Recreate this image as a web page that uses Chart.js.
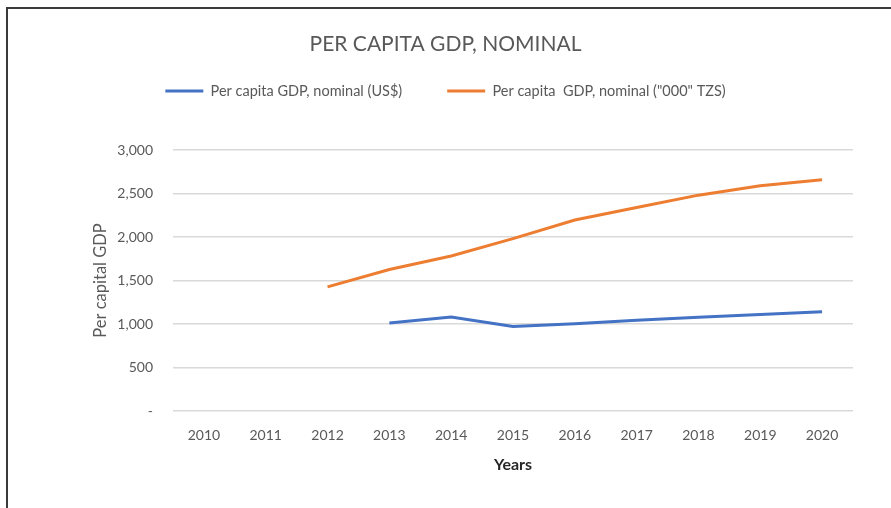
<!DOCTYPE html>
<html>
<head>
<meta charset="utf-8">
<script src="https://cdn.jsdelivr.net/npm/chart.js@4/dist/chart.umd.min.js"></script>
<style>
  html, body { margin: 0; padding: 0; background: #ffffff; }
  #wrap { position: relative; width: 891px; height: 508px; overflow: hidden; }
  #frame { position: absolute; left: 6px; top: 7px; right: -4px; bottom: -4px;
           border-left: 2px solid #3a3a3a; border-top: 2px solid #3a3a3a; pointer-events: none; }
  canvas { position: absolute; left: 0; top: 0; }
</style>
</head>
<body>
<div id="wrap">
  <canvas id="chart" width="891" height="508"></canvas>
  <div id="frame"></div>
</div>
<script>
// Years on the category axis
const years = ['2010', '2011', '2012', '2013', '2014', '2015', '2016', '2017', '2018', '2019', '2020'];

// Per capita GDP, nominal, in US dollars
const gdpUsd = [null, null, null, 1011, 1080, 972, 1003, 1042, 1077, 1110, 1142];

// Per capita GDP, nominal, in thousands of shillings
const gdpTzs = [null, null, 1427, 1627, 1781, 1981, 2196, 2338, 2481, 2588, 2658];

// Value axis range
const yMin = 0;
const yMax = 3000;
const yStep = 500;

const FONT = 'Lato, "Liberation Sans", sans-serif';

// Extra room under the legend, above the plot
const legendSpacer = {
  id: 'legendSpacer',
  beforeLayout(chart) {
    const lg = chart.legend;
    if (lg && !lg._spaced) {
      const fit = lg.fit;
      lg.fit = function () {
        fit.call(this);
        this.height = 111.25;
      };
      lg._spaced = true;
    }
  }
};

new Chart(document.getElementById('chart'), {
  type: 'line',
  data: {
    labels: years,
    datasets: [
      {
        label: 'Per capita GDP, nominal (US$)',
        data: gdpUsd,
        borderColor: '#4472C4',
        backgroundColor: '#4472C4',
        borderWidth: 3,
        pointRadius: 0,
        tension: 0
      },
      {
        label: 'Per capita  GDP, nominal ("000" TZS)',
        data: gdpTzs,
        borderColor: '#ED7D31',
        backgroundColor: '#ED7D31',
        borderWidth: 3,
        pointRadius: 0,
        tension: 0
      }
    ]
  },
  plugins: [legendSpacer],
  options: {
    responsive: false,
    animation: false,
    devicePixelRatio: 1,
    layout: { padding: { left: 38, right: 38, top: 0, bottom: 0 } },
    plugins: {
      title: {
        display: true,
        text: 'PER CAPITA GDP, NOMINAL',
        color: '#595959',
        font: { family: FONT, size: 21, weight: 'normal' },
        padding: { top: 32, bottom: -18.45 }
      },
      legend: {
        display: true,
        position: 'top',
        labels: {
          color: '#595959',
          font: { family: FONT, size: 14.5 },
          boxWidth: 38,
          boxHeight: 0,
          padding: 45
        }
      },
      tooltip: { enabled: false }
    },
    scales: {
      x: {
        offset: true,
        grid: { display: false, drawTicks: false },
        border: { display: false },
        ticks: {
          color: '#595959',
          font: { family: FONT, size: 14 },
          padding: 16,
          maxRotation: 0,
          autoSkip: false
        },
        title: {
          display: true,
          text: 'Years',
          color: '#262626',
          font: { family: FONT, size: 16, weight: 'bold' },
          padding: { top: 0, bottom: 33.4 }
        },
        afterFit(scale) { scale.height = 97; }
      },
      y: {
        min: yMin,
        max: yMax,
        grid: { color: '#d9d9d9', lineWidth: 1.5, drawTicks: false },
        border: { display: false },
        ticks: {
          stepSize: yStep,
          color: '#595959',
          font: { family: FONT, size: 14 },
          padding: 20,
          callback: (v) => v === 0 ? '-' : v.toLocaleString('en-US')
        },
        title: {
          display: true,
          text: 'Per capital GDP',
          color: '#595959',
          font: { family: FONT, size: 16.5 },
          padding: { top: 52.5, bottom: 0 }
        },
        afterFit(scale) { scale.width = 135; }
      }
    }
  }
});
</script>
</body>
</html>
